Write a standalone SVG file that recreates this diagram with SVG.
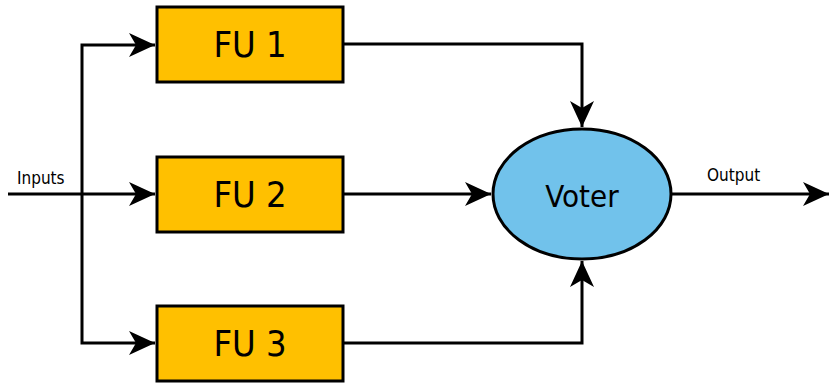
<svg xmlns="http://www.w3.org/2000/svg" width="831" height="385" viewBox="0 0 831 385">
  <style>
    .fu { fill: #FFC000; stroke: #000; stroke-width: 3; }
    .voter { fill: #71C2EB; stroke: #000; stroke-width: 3; }
    .big { font-family: "DejaVu Sans Condensed", "DejaVu Sans", sans-serif; font-stretch: condensed; font-size: 36px; fill: #000; text-anchor: middle; }
    .small { font-family: "DejaVu Sans Condensed", "DejaVu Sans", sans-serif; font-stretch: condensed; font-size: 17px; fill: #000; }
    .wire { fill: none; stroke: #000; stroke-width: 3; }
  </style>
  <defs>
    <marker id="arrow" markerUnits="userSpaceOnUse" markerWidth="30" markerHeight="30" viewBox="-28 -14 30 28" refX="0" refY="0" orient="auto">
      <path d="M0,0 L-26,-12 L-19,0 L-26,12 Z" fill="#000"/>
    </marker>
  </defs>

  <rect width="831" height="385" fill="#fff"/>

  <g id="connectors">
    <!-- input bus and fan-out -->
    <path class="wire" d="M8,194 H155" marker-end="url(#arrow)"/>
    <path class="wire" d="M82,194 V45 H155" marker-end="url(#arrow)"/>
    <path class="wire" d="M82,194 V343 H155" marker-end="url(#arrow)"/>
    <!-- unit outputs into the voter -->
    <path class="wire" d="M343,44 H582 V127" marker-end="url(#arrow)"/>
    <path class="wire" d="M343,194 H491" marker-end="url(#arrow)"/>
    <path class="wire" d="M343,343 H582 V261" marker-end="url(#arrow)"/>
    <!-- voter output -->
    <path class="wire" d="M671,194 H829" marker-end="url(#arrow)"/>
    <text class="small" x="17" y="184">Inputs</text>
    <text class="small" x="707" y="181">Output</text>
  </g>

  <g id="fu1">
    <rect class="fu" x="157" y="7" width="186" height="75"/>
    <text class="big" x="250" y="57">FU 1</text>
  </g>
  <g id="fu2">
    <rect class="fu" x="157" y="157" width="186" height="75"/>
    <text class="big" x="250" y="207">FU 2</text>
  </g>
  <g id="fu3">
    <rect class="fu" x="157" y="306" width="186" height="75"/>
    <text class="big" x="250" y="356">FU 3</text>
  </g>
  <g id="voter">
    <ellipse class="voter" cx="582" cy="194" rx="89" ry="65"/>
    <text class="big" x="582" y="207" style="font-size:31px">Voter</text>
  </g>
</svg>
